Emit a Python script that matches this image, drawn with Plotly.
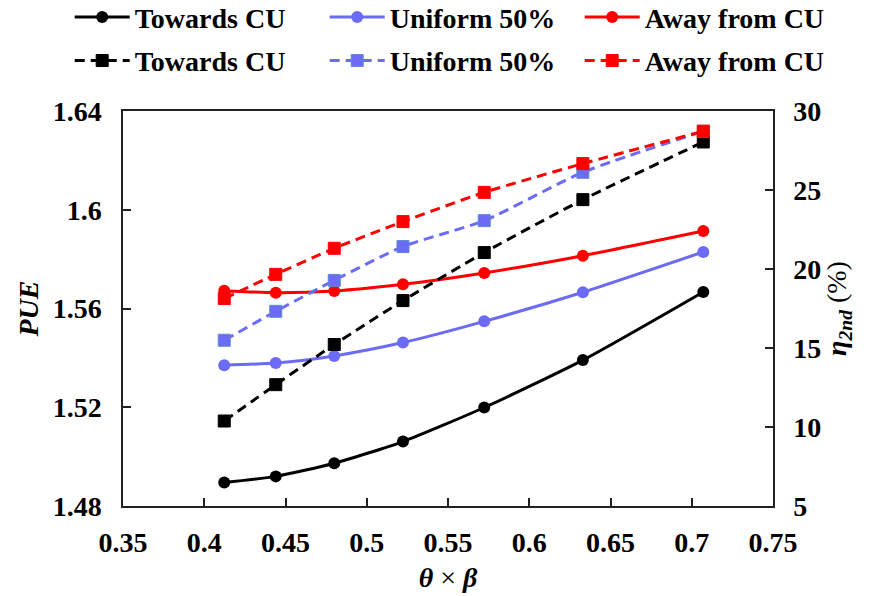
import plotly.graph_objects as go

x_vals = [0.4123, 0.4440, 0.4800, 0.5223, 0.5723, 0.6330, 0.7071]

pue_towards = [1.4895, 1.4920, 1.4973, 1.5061, 1.5199, 1.5391, 1.5667]
pue_uniform = [1.5370, 1.5379, 1.5408, 1.5462, 1.5548, 1.5666, 1.5829]
pue_away = [1.5672, 1.5664, 1.5671, 1.5698, 1.5744, 1.5814, 1.5914]

eta_towards = [10.38, 12.68, 15.22, 18.00, 21.04, 24.39, 28.04]
eta_uniform = [15.49, 17.32, 19.28, 21.42, 23.06, 26.12, 28.72]
eta_away = [18.13, 19.66, 21.31, 23.00, 24.85, 26.67, 28.72]

names = ["Towards CU", "Uniform 50%", "Away from CU"]
colors = ["#000000", "#6B6BF5", "#FF0000"]
sq_lines = ["#000000", "#5B8BD0", "#FF0000"]

FONT = "'Times New Roman', 'Liberation Serif', serif"
FS = 28
fig = go.Figure()

for name, col, ys in zip(names, colors, [pue_towards, pue_uniform, pue_away]):
    fig.add_trace(go.Scatter(
        x=x_vals, y=ys, name=name, mode="lines+markers",
        line=dict(color=col, width=3, shape="spline", smoothing=0.6),
        marker=dict(symbol="circle", size=12, color=col),
        legend="legend", yaxis="y"))

for name, col, lc, ys in zip(names, colors, sq_lines, [eta_towards, eta_uniform, eta_away]):
    fig.add_trace(go.Scatter(
        x=x_vals, y=ys, name=name, mode="lines+markers",
        line=dict(color=col, width=3, dash="10px,6px", shape="spline", smoothing=0.6),
        marker=dict(symbol="square", size=12, color=col, line=dict(color=lc, width=1)),
        legend="legend2", yaxis="y2"))

tickfont = dict(family=FONT, size=FS, color="black", weight="bold")
axis_common = dict(showgrid=False, zeroline=False, showline=True, linecolor="#222222",
                   linewidth=1.5, ticks="inside", ticklen=8, tickcolor="#222222",
                   tickwidth=1.5, tickfont=tickfont)

legend_common = dict(orientation="h",
                     font=dict(family=FONT, size=FS, color="black", weight="bold"),
                     bgcolor="rgba(0,0,0,0)", entrywidth=185, entrywidthmode="pixels",
                     itemwidth=55, xanchor="left", yanchor="middle", tracegroupgap=0)

fig.update_layout(
    width=869, height=596,
    margin=dict(l=123, r=96, t=111, b=90, autoexpand=False),
    paper_bgcolor="white", plot_bgcolor="white",
    font=dict(family=FONT, color="black"),
    xaxis=dict(range=[0.35, 0.75], dtick=0.05, tick0=0.35, mirror=True,
               ticklabelstandoff=11,
               title=dict(text="<b><i>θ</i></b> × <b><i>β</i></b>",
                          font=dict(family=FONT, size=FS), standoff=10),
               **axis_common),
    yaxis=dict(range=[1.48, 1.64], dtick=0.04, tick0=1.48, ticklabelstandoff=14,
               title=dict(text="<b><i>PUE</i></b>", font=dict(family=FONT, size=FS), standoff=6),
               **axis_common),
    yaxis2=dict(range=[5, 30], dtick=5, tick0=5, overlaying="y", side="right",
                ticklabelstandoff=13,
                title=dict(text="<b><i>η</i></b><sub><b><i>2nd</i></b></sub> (%)",
                           font=dict(family=FONT, size=FS), standoff=6),
                **axis_common),
    legend=dict(x=-0.082, y=1.237, **legend_common),
    legend2=dict(x=-0.082, y=1.127, **legend_common),
    showlegend=True,
)

fig.write_html("out.html")
